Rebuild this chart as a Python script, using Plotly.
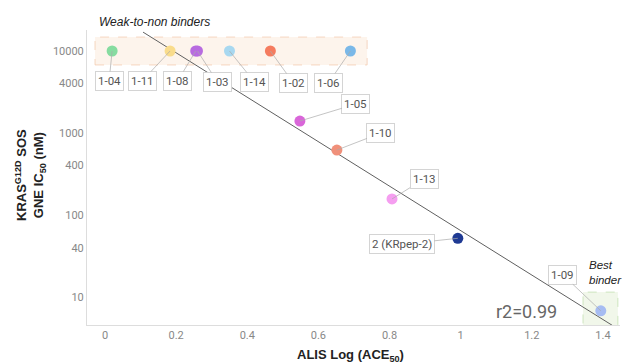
import math
import plotly.graph_objects as go

# ---- data ----
labels = ["1-04", "1-11", "1-08", "1-03", "1-14", "1-02", "1-06",
          "1-05", "1-10", "1-13", "2 (KRpep-2)", "1-09"]
alis_log = [0.02, 0.183, 0.255, 0.26, 0.35, 0.465, 0.69,
            0.548, 0.652, 0.807, 0.992, 1.394]
ic50 = [10000, 10000, 10000, 10000, 10000, 10000, 10000,
        1400, 620, 157, 52, 6.8]
colors = ["#86dca0", "#f9dc8c", "#b86be0", "#b86be0", "#a8d8f0", "#f57c5f", "#7ab8e8",
          "#d966d9", "#f0907a", "#f59ef0", "#1f3a93", "#a6bcf2"]
# label box offsets (pixels) relative to each point
label_dx = [-3, -28, -18, 20, 25, 23, -22, 56, 44, 32, -56, -38]
label_dy = [30, 30, 30, 31, 31, 32, 32, -17, -17, -20, 6, -36]

fit_x = [0.107, 1.43]
fit_intercept = 4.52
fit_slope = -2.71
fit_y = [10 ** (fit_intercept + fit_slope * v) for v in fit_x]

x_ticks = [0, 0.2, 0.4, 0.6, 0.8, 1, 1.2, 1.4]
y_ticks = [10, 40, 100, 400, 1000, 4000, 10000]

# plot geometry
L, R, T, B = 87, 4, 30, 39
W, H = 624, 364
pw, ph = W - L - R, H - T - B
def px(xp):
    return (xp - L) / pw
def py(yp):
    return (H - B - yp) / ph

fig = go.Figure()

# shaded boxes
fig.add_shape(type="rect", x0=-0.028, x1=0.737, y0=10 ** 3.83, y1=10 ** 4.17,
              xref="x", yref="y", fillcolor="#fdf4ec",
              line=dict(color="#f4cdb2", width=0.8, dash="dash"), layer="below")
fig.add_shape(type="rect", x0=1.344, x1=1.442, y0=10 ** 0.646, y1=10 ** 1.06,
              xref="x", yref="y", fillcolor="#f1f7ea",
              line=dict(color="#c4dfb2", width=0.8, dash="dash"), layer="below")

# fit line
fig.add_trace(go.Scatter(x=fit_x, y=fit_y, mode="lines",
                         line=dict(color="#606060", width=1), hoverinfo="skip",
                         showlegend=False))

# points
fig.add_trace(go.Scatter(x=alis_log, y=ic50, mode="markers",
                         marker=dict(color=colors, size=11, line=dict(width=0)),
                         text=labels, showlegend=False))

# labels (annotations on log axes take log10 coordinates)
for lab, xv, yv, dx, dy in zip(labels, alis_log, ic50, label_dx, label_dy):
    fig.add_annotation(x=xv, y=math.log10(yv), xref="x", yref="y", text=lab,
                       showarrow=True, arrowhead=0, arrowwidth=0.7,
                       arrowcolor="#aaaaaa", ax=dx, ay=dy,
                       font=dict(family="Roboto", size=11.5, color="#555555"),
                       bgcolor="white", bordercolor="#d4d4d4", borderwidth=1,
                       borderpad=2, standoff=0)

# texts
fig.add_annotation(x=px(97), y=py(22), xref="paper", yref="paper",
                   text="<i>Weak-to-non binders</i>", showarrow=False,
                   xanchor="left", yanchor="middle",
                   font=dict(family="Liberation Sans", size=12, color="#222222"))
fig.add_annotation(x=px(587), y=py(272), xref="paper", yref="paper",
                   text="<i>Best<br>binder</i>", showarrow=False,
                   xanchor="left", yanchor="middle", align="left",
                   font=dict(family="Liberation Sans", size=11.5, color="#222222"))
fig.add_annotation(x=px(559), y=py(311), xref="paper", yref="paper",
                   text="r2=0.99", showarrow=False,
                   xanchor="right", yanchor="middle",
                   font=dict(family="Roboto", size=18, color="#666666"))
fig.add_annotation(x=px(350), y=py(356), xref="paper", yref="paper",
                   text="<b>ALIS Log (ACE<sub>50</sub>)</b>", showarrow=False,
                   xanchor="center", yanchor="middle",
                   font=dict(family="Liberation Sans", size=13, color="#222222"))
fig.add_annotation(x=px(30), y=py(175), xref="paper", yref="paper",
                   text="<b>KRAS<sup>G12D</sup> SOS<br>GNE IC<sub>50</sub> (nM)</b>",
                   showarrow=False, textangle=-90,
                   xanchor="center", yanchor="middle",
                   font=dict(family="Liberation Sans", size=13, color="#222222"))

fig.update_layout(
    width=W, height=H,
    margin=dict(l=L, r=R, t=T, b=B, pad=0),
    paper_bgcolor="white", plot_bgcolor="white",
    xaxis=dict(range=[-0.0506, 1.448], tickvals=x_ticks,
               ticktext=[f"{v:g}" for v in x_ticks],
               showgrid=False, zeroline=False, showline=True,
               linecolor="#dddddd", linewidth=1, ticks="",
               tickfont=dict(family="Roboto", size=11, color="#888888")),
    yaxis=dict(type="log", range=[0.659, 4.256], tickvals=y_ticks,
               ticktext=[str(v) for v in y_ticks],
               showgrid=False, zeroline=False, showline=True,
               linecolor="#dddddd", linewidth=1, ticks="",
               tickfont=dict(family="Roboto", size=11, color="#888888")),
)

fig.write_html("out.html", config={"displayModeBar": False},
               post_script="document.body.style.margin='0';document.body.style.overflow='hidden';")
